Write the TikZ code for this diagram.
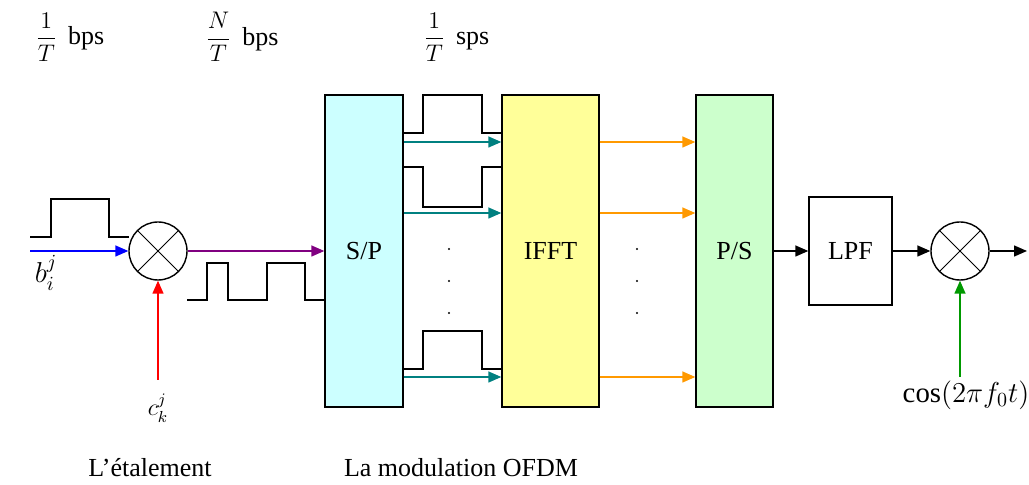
\documentclass[tikz,border=0pt]{standalone}
\usepackage{fontspec}
\setmainfont{Liberation Serif}
\usepackage{mathtools}
\usetikzlibrary{arrows.meta}
\definecolor{spfill}{HTML}{CCFFFF}
\definecolor{ifftfill}{HTML}{FFFF99}
\definecolor{psfill}{HTML}{CCFFCC}
\definecolor{teal}{HTML}{008080}
\definecolor{orangearr}{HTML}{FF9900}
\definecolor{purplearr}{HTML}{800080}
\definecolor{greenarr}{HTML}{009900}

\begin{document}
\begin{tikzpicture}[x=0.5pt, y=-0.5pt, >={Triangle[length=6.5pt,width=5.5pt]},
    font=\fontsize{13}{15}\selectfont, line width=0.7pt,
    block/.style={draw, rectangle, minimum height=156pt, inner sep=0pt},
    mixer/.style={draw, circle, minimum size=29pt, inner sep=0pt,
        path picture={\draw[line width=0.5pt] (path picture bounding box.north west) -- (path picture bounding box.south east)
                      (path picture bounding box.south west) -- (path picture bounding box.north east);}},
    dot/.style={circle, fill=black, inner sep=0pt, minimum size=1.2pt}]
        \useasboundingbox (0,0) rectangle (1029,485);

        % blocks
        \node (sp)   at (364, 251) [block, fill=spfill,   minimum width=39pt]   {S/P};
        \node (ifft) at (550.5, 251) [block, fill=ifftfill, minimum width=48.5pt] {IFFT};
        \node (ps)   at (734.5, 251) [block, fill=psfill,   minimum width=38.5pt] {P/S};
        \node (lpf)  at (850.5, 251) [draw, rectangle, minimum width=41.5pt, minimum height=54pt, inner sep=0pt] {LPF};
        \node (mix1) at (158, 251) [mixer] {};
        \node (mix2) at (960, 251) [mixer] {};

        % labels
        \node (rate1) at (28, 37)  [anchor=west] {$\dfrac{1}{T}$ \,bps};
        \node (rate2) at (198, 37) [anchor=west] {$\dfrac{N}{T}$ \,bps};
        \node (rate3) at (416, 37) [anchor=west] {$\dfrac{1}{T}$ \,sps};
        \node (bij)   at (46, 273)  {\Large $b_i^j$};
        \node (ckj)   at (158, 408) {\large $c_k^j$};
        \node (cosw)  at (966, 395) {\Large $\cos(2\pi f_0 t)$};
        \node (etal)  at (150, 468) {L'étalement};
        \node (ofdm)  at (461, 468) {La modulation OFDM};

        \coordinate (bin)  at (30, 251);
        \coordinate (cin)  at (158, 380);
        \coordinate (gin)  at (960, 377);
        \coordinate (out)  at (1027, 251);

        % spreading
        \draw[->, draw=blue] (bin) -- (mix1.west);
        \draw[->, draw=red] (cin) -- (mix1.south);
        \draw[->, draw=purplearr] (mix1.east) -- (sp.west |- mix1.east);
        \draw (30,237) -- (51,237) -- (51,199) -- (109,199) -- (109,237) -- (129,237);
        \draw (187,300) -- (207,300) -- (207,263) -- (228,263) -- (228,300) -- (267,300) -- (267,263) -- (305,263) -- (305,300) -- (sp.west |- 0,300);

        % parallel branches
        \draw (sp.east |- 0,133) -- (423,133) -- (423,95) -- (482,95) -- (482,133) -- (ifft.west |- 0,133);
        \draw (sp.east |- 0,167) -- (423,167) -- (423,207) -- (482,207) -- (482,167) -- (ifft.west |- 0,167);
        \draw (sp.east |- 0,369) -- (423,369) -- (423,331) -- (482,331) -- (482,369) -- (ifft.west |- 0,369);
        \foreach \y in {142, 213, 377} {
            \draw[->, draw=teal] (sp.east |- 0,\y) -- (ifft.west |- 0,\y);
            \draw[->, draw=orangearr] (ifft.east |- 0,\y) -- (ps.west |- 0,\y);
        }
        \foreach \y in {249, 281, 313} {
            \node at (449, \y) [dot] {};
            \node at (637, \y) [dot] {};
        }

        % output
        \draw[->] (ps.east |- lpf.west) -- (lpf.west);
        \draw[->] (lpf.east) -- (mix2.west);
        \draw[->] (mix2.east) -- (out);
        \draw[->, draw=greenarr] (gin) -- (mix2.south);
    \end{tikzpicture}
\end{document}
